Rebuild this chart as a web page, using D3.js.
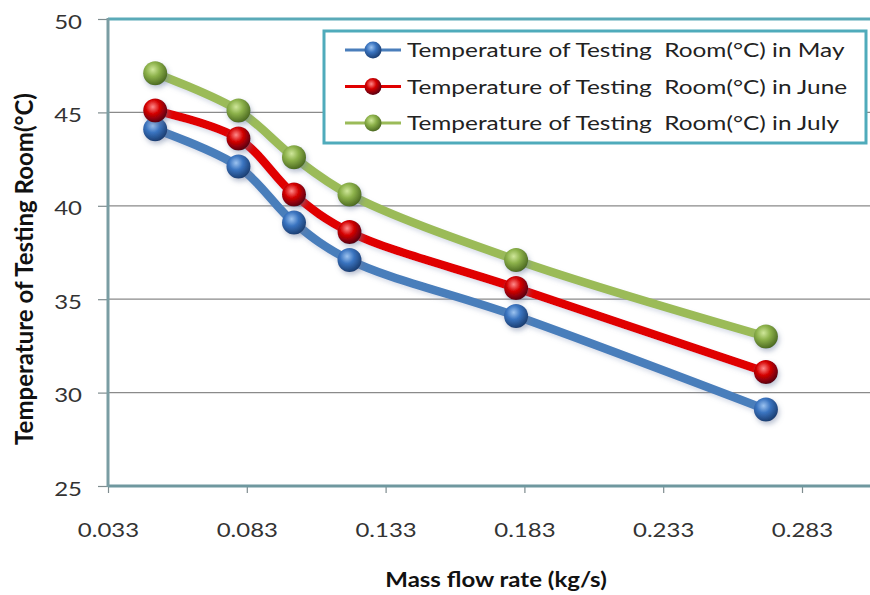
<!DOCTYPE html>
<html>
<head>
<meta charset="utf-8">
<script src="https://d3js.org/d3.v7.min.js"></script>
<style>
body{margin:0;background:#fff;}
text{font-family:Lato,"Open Sans",sans-serif;}
</style>
</head>
<body>
<svg width="870" height="595" id="mainsvg"></svg>
<script>
// mass flow rate (kg/s)
const flow=[0.05,0.08,0.10,0.12,0.18,0.27];
const may=[44.1,42.1,39.1,37.1,34.1,29.1];
const june=[45.1,43.6,40.6,38.6,35.6,31.1];
const july=[47.1,45.1,42.6,40.6,37.1,33.0];
const months=['May','June','July'];
const xTicks=[0.033,0.083,0.133,0.183,0.233,0.283];
const yTicks=[25,30,35,40,45,50];

const series=[
  {name:'May',vals:may,line:'#4a7ebb',light:'#9cc3f0',mid:'#3a74c0',dark:'#1c3f73'},
  {name:'June',vals:june,line:'#e00000',light:'#ff8a8a',mid:'#d40000',dark:'#5a0012'},
  {name:'July',vals:july,line:'#9bbb59',light:'#cfe79a',mid:'#8cb14a',dark:'#4d6b22'}
];

const svg=d3.select('#mainsvg');
const width=+svg.attr('width');
const height=+svg.attr('height');
const plotLeft=108, plotTop=19, plotBottom=486;
const stretch=1.2; // text in the picture is a bit wide

const x=d3.scaleLinear().domain([0.033,0.333]).range([plotLeft,plotLeft+6*138.8]);
const y=d3.scaleLinear().domain([25,50]).range([plotBottom,plotTop]);

const defs=svg.append('defs');
series.forEach((s,i)=>{
  const gr=defs.append('radialGradient').attr('id','ball'+i)
    .attr('cx','40%').attr('cy','35%').attr('r','65%');
  gr.append('stop').attr('offset','0%').attr('stop-color',s.light);
  gr.append('stop').attr('offset','45%').attr('stop-color',s.mid);
  gr.append('stop').attr('offset','100%').attr('stop-color',s.dark);
});
const f=defs.append('filter').attr('id','shadow').attr('x','-50%').attr('y','-50%').attr('width','200%').attr('height','200%');
f.append('feDropShadow').attr('dx',1.5).attr('dy',3).attr('stdDeviation',2.5)
  .attr('flood-color','#6d7fa0').attr('flood-opacity',0.45);
const fl=defs.append('filter').attr('id','lshadow').attr('x','-10%').attr('y','-20%').attr('width','120%').attr('height','140%');
fl.append('feDropShadow').attr('dx',1).attr('dy',3).attr('stdDeviation',2)
  .attr('flood-color','#8899bb').attr('flood-opacity',0.3);

// gridlines
svg.append('g').selectAll('line').data(yTicks.filter(d=>d>25&&d<50)).join('line')
  .attr('x1',plotLeft).attr('x2',width).attr('y1',d=>y(d)).attr('y2',d=>y(d))
  .attr('stroke','#8a8a8a').attr('stroke-width',1.2);

// top border
svg.append('line').attr('x1',plotLeft).attr('x2',width).attr('y1',y(50)).attr('y2',y(50))
  .attr('stroke','#5aaab8').attr('stroke-width',3);

// axes
const yAxis=d3.axisLeft(y).tickValues(yTicks).tickSize(10).tickPadding(16).tickFormat(d3.format('d'));
const gy=svg.append('g').attr('transform',`translate(${plotLeft},0)`).call(yAxis);
const xAxis=d3.axisBottom(x).tickValues(xTicks).tickSize(7).tickPadding(30).tickFormat(d3.format('.3f'));
const gx=svg.append('g').attr('transform',`translate(0,${plotBottom})`).call(xAxis);
[gx,gy].forEach(g=>{
  g.select('.domain').remove();
  g.selectAll('.tick line').attr('stroke','#7f8c8f').attr('stroke-width',1.2);
  g.selectAll('.tick text').attr('font-size',20).attr('fill','#333')
    .style('font-family','Lato,"Open Sans",sans-serif')
    .attr('transform',`scale(${stretch},1)`);
});
gy.selectAll('.tick text').attr('dy','0.45em').attr('x',-26/stretch);
svg.append('line').attr('x1',plotLeft).attr('x2',width).attr('y1',plotBottom).attr('y2',plotBottom)
  .attr('stroke','#6f989f').attr('stroke-width',3);
svg.append('line').attr('x1',plotLeft).attr('x2',plotLeft).attr('y1',plotTop-1).attr('y2',plotBottom+1)
  .attr('stroke','#7a9da3').attr('stroke-width',3);

// axis titles
svg.append('text').attr('transform',`translate(496,587) scale(${stretch},1)`).attr('text-anchor','middle')
  .attr('font-size',20).attr('font-weight','bold').attr('fill','#111').text('Mass flow rate (kg/s)');
svg.append('text').attr('transform',`translate(33,269) rotate(-90)`)
  .attr('text-anchor','middle').attr('font-size',24).attr('font-weight','bold').attr('fill','#111')
  .text('Temperature of Testing Room(°C)');

// lines and markers
const line=d3.line().x(d=>x(d[0])).y(d=>y(d[1])).curve(d3.curveCatmullRom.alpha(0.5));
series.forEach((s,i)=>{
  const pts=flow.map((v,j)=>[v,s.vals[j]]);
  svg.append('path').datum(pts).attr('d',line).attr('fill','none')
    .attr('stroke',s.line).attr('stroke-width',8.5).attr('stroke-linejoin','round')
    .attr('filter','url(#lshadow)');
});
series.forEach((s,i)=>{
  const pts=flow.map((v,j)=>[v,s.vals[j]]);
  svg.append('g').selectAll('circle').data(pts).join('circle')
    .attr('cx',d=>x(d[0])).attr('cy',d=>y(d[1])).attr('r',12)
    .attr('fill',`url(#ball${i})`).attr('filter','url(#shadow)');
});

// legend
const lg=svg.append('g');
lg.append('rect').attr('x',324).attr('y',31).attr('width',542).attr('height',112)
  .attr('fill','#fff').attr('stroke','#4fabbb').attr('stroke-width',3);
series.forEach((s,i)=>{
  const ly=50+i*36.5;
  lg.append('line').attr('x1',345).attr('x2',401).attr('y1',ly).attr('y2',ly)
    .attr('stroke',s.line).attr('stroke-width',3);
  lg.append('circle').attr('cx',373).attr('cy',ly).attr('r',8.5).attr('fill',`url(#ball${i})`);
  lg.append('text').attr('transform',`translate(407,${ly}) scale(1.22,1)`).attr('dy','0.36em').attr('font-size',20)
    .attr('fill','#222').text('Temperature of Testing  Room(°C) in '+months[i])
    .style('white-space','pre');
});
</script>
</body>
</html>
